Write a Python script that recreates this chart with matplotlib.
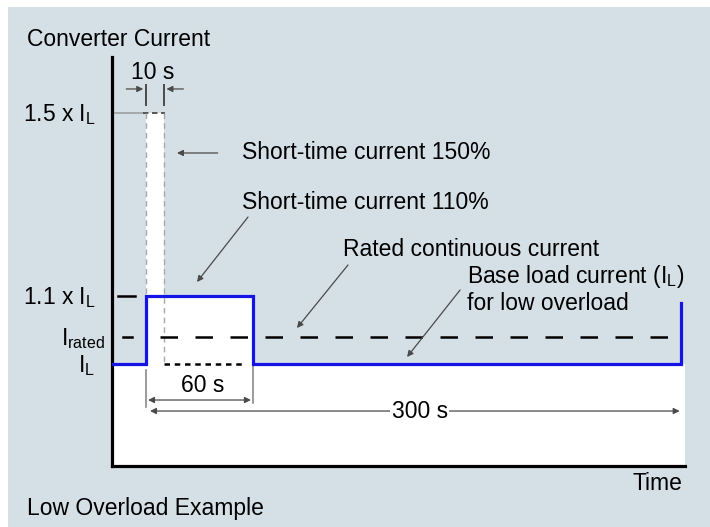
import numpy as np
import matplotlib.pyplot as plt
from matplotlib.patches import Rectangle

plt.rcParams['font.family'] = ['Liberation Sans', 'DejaVu Sans']
plt.rcParams['mathtext.default'] = 'regular'
plt.rcParams['font.size'] = 16.5

# load cycle: time in s, current in multiples of the base load current I_L
profile_t = [-19, 0, 0, 60, 60, 300, 300]
profile_i = [1.0, 1.0, 1.1, 1.1, 1.0, 1.0, 1.09]

# envelope of the permitted current (150% for 10 s, 110% for 60 s)
envelope_t = [-19, 0, 10, 60, 302]
envelope_i = [1.0, 1.5, 1.1, 1.0, 1.0]

i_base = 1.0
i_rated = 1.04
i_short = 1.1
i_peak = 1.5

level_labels = ['1.5 x $I_L$', '1.1 x $I_L$', '$I_{rated}$', '$I_L$']
level_values = [i_peak, i_short, i_rated, i_base]

# schematic (not to scale) current axis
scale_vals = [0, 1.0, 1.1, 1.5, 1.7]
scale_h = [0, 102, 170, 353, 444.5]


def fwd(v):
    return np.interp(v, scale_vals, scale_h)


def inv(h):
    return np.interp(h, scale_h, scale_vals)


bg = '#d5e0e6'
blue = '#1414e6'
grey = '#4a4a4a'

fig = plt.figure(figsize=(7.1, 5.27), dpi=100)
fig.patch.set_facecolor('white')
fig.patches.append(Rectangle((8 / 710, 0), 1, 1 - 7 / 527, transform=fig.transFigure,
                             facecolor=bg, edgecolor='none', zorder=-1))

ax = fig.add_axes([112 / 710, 61 / 527, 573 / 710, 409 / 527])
ax.set_facecolor('none')
ax.set_yscale('function', functions=(fwd, inv))
ax.set_xlim(-19, 302)
ax.set_ylim(0, inv(409))
for s in ['top', 'right']:
    ax.spines[s].set_visible(False)
for s in ['left', 'bottom']:
    ax.spines[s].set_linewidth(2.3)
ax.set_xticks([])
ax.set_yticks([])
ax.minorticks_off()
ax.yaxis.set_minor_locator(plt.NullLocator())

# area under the permitted current
ax.fill_between(envelope_t, 0, envelope_i, step='post', color='white', lw=0, zorder=0)

# 10 s column at 150%
ax.plot([-19, -1.6], [i_peak, i_peak], color='#9a9a9a', lw=1.1)
ax.plot([-1.5, 10.5], [i_peak, i_peak], color=grey, lw=1.3, ls=(0, (3, 2)))
ax.plot([0, 0], [i_peak, i_short], color='#a8a8a8', lw=1.0, ls=(0, (4, 3)))
ax.plot([10, 10], [i_peak, i_base], color='#a8a8a8', lw=1.0, ls=(0, (4, 3)))

# level marks
ax.plot([-15.5, -6], [i_short, i_short], color='black', lw=1.8, clip_on=False)
ax.plot([-13, -8], [i_rated, i_rated], color='black', lw=1.8)
ax.plot([8, 300], [i_rated, i_rated], color='black', lw=1.8, ls=(0, (7, 7)))
ax.plot([10, 54], [i_base, i_base], color='black', lw=1.8, ls=(0, (2.2, 1.9)))

# load profile
ax.plot(profile_t, profile_i, color=blue, lw=2.3, solid_joinstyle='miter', zorder=5)

arrow = dict(arrowstyle='-|>', color=grey, lw=0.9, mutation_scale=9, shrinkA=0, shrinkB=0)
double = dict(arrowstyle='<|-|>', color=grey, lw=0.9, mutation_scale=9, shrinkA=0, shrinkB=0)

# 10 s dimension
ax.plot([0, 0], [1.5175, 1.561], color=grey, lw=1.4)
ax.plot([10, 10], [1.5175, 1.561], color=grey, lw=1.4)
ax.annotate('', xy=(-1.5, 1.5525), xytext=(-11, 1.5525), arrowprops=arrow, annotation_clip=False)
ax.annotate('', xy=(11.5, 1.5525), xytext=(21, 1.5525), arrowprops=arrow, annotation_clip=False)
ax.text(4, 1.5896, '10 s', ha='center', va='center', clip_on=False)

# 60 s and 300 s dimensions
ax.plot([0, 0], [0.578, 0.941], color='#8a8a8a', lw=1.2)
ax.plot([60, 60], [0.618, 1.0], color='#8a8a8a', lw=1.2)
ax.annotate('', xy=(1.2, 0.647), xytext=(58.8, 0.647), arrowprops=double)
ax.text(32, 0.794, '60 s', ha='center', va='center')
ax.annotate('', xy=(2.3, 0.539), xytext=(299, 0.539), arrowprops=double)
ax.text(153.5, 0.539, '300 s', ha='center', va='center',
        bbox=dict(facecolor='white', edgecolor='none', pad=1))

# callouts
ax.annotate('', xy=(17.4, 1.4126), xytext=(40.2, 1.4126), arrowprops=arrow)
ax.text(53.8, 1.4126, 'Short-time current 150%', va='center')
ax.annotate('', xy=(28.6, 1.1306), xytext=(57.2, 1.2727), arrowprops=arrow)
ax.text(53.8, 1.305, 'Short-time current 110%', va='center')
ax.annotate('', xy=(84.6, 1.0529), xytext=(113.2, 1.1678), arrowprops=arrow)
ax.text(110.4, 1.2027, 'Rated continuous current', va='center')
ax.annotate('', xy=(146.3, 1.0103), xytext=(176, 1.1131), arrowprops=arrow)
ax.text(179.9, 1.1437, 'Base load current ($I_L$)', va='center')
ax.text(179.9, 1.0897, 'for low overload', va='center')

# current levels on the vertical axis
offsets = [-12, -12, -5, -12]
for lab, val, dx in zip(level_labels, level_values, offsets):
    ax.annotate(lab, xy=(0, val), xycoords=ax.get_yaxis_transform(),
                xytext=(dx, -6), textcoords='offset points', ha='right', va='baseline')

fig.text(27 / 710, 1 - 40 / 527, 'Converter Current', va='center')
fig.text(682 / 710, 1 - 483 / 527, 'Time', ha='right', va='center')
fig.text(27 / 710, 1 - 508 / 527, 'Low Overload Example', va='center')

fig.savefig('out.png', dpi=100, facecolor=fig.get_facecolor())
